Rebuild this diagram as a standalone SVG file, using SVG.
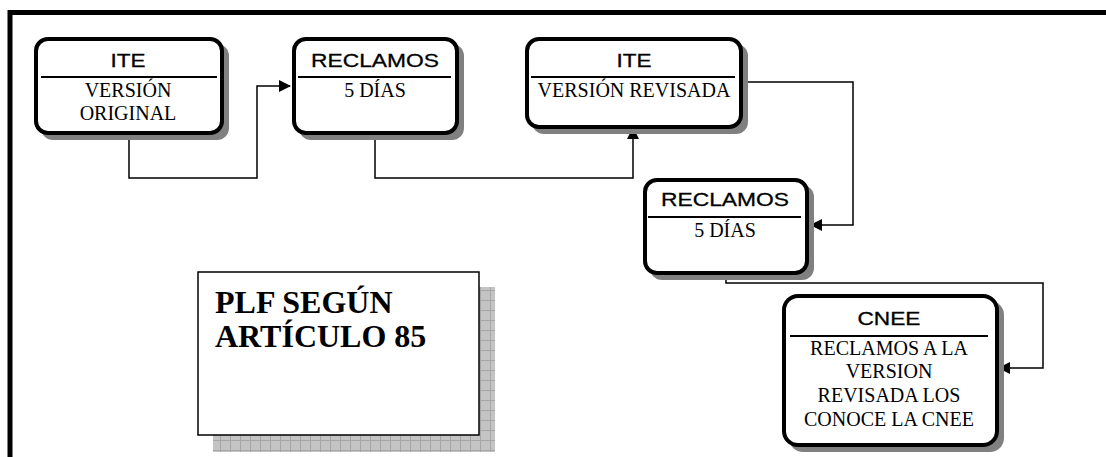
<svg xmlns="http://www.w3.org/2000/svg" width="1106" height="457" viewBox="0 0 1106 457">
<style>
.box{fill:#fff;stroke:#000;stroke-width:4}
.shadow{fill:#808080}
.div{stroke:#000;stroke-width:2}
.title{font-family:"Liberation Sans",Arial,sans-serif;font-size:19px;text-anchor:middle;fill:#000;stroke:#000;stroke-width:0.3}
.body{font-family:"Liberation Serif","Times New Roman",serif;font-size:20px;text-anchor:middle;fill:#000}
.conn{fill:none;stroke:#000;stroke-width:1.5}
.big{font-family:"Liberation Serif","Times New Roman",serif;font-size:32px;font-weight:bold;fill:#000}
</style>
<defs>
<marker id="arr" markerWidth="12" markerHeight="12" refX="11" refY="6" orient="auto" markerUnits="userSpaceOnUse">
<path d="M0,0 L12,6 L0,12 Z" fill="#000"/>
</marker>
<pattern id="grid" width="10" height="10" patternUnits="userSpaceOnUse">
<rect width="10" height="10" fill="#c4c4c4"/>
<path d="M0,0.5 H10 M0.5,0 V10" stroke="#a6a6a6" stroke-width="1"/>
</pattern>
</defs>
<rect width="1106" height="457" fill="#fff"/>
<g id="frame">
<path d="M10,457 V12.5 H1106" fill="none" stroke="#000" stroke-width="5"/>
</g>
<g id="connectors">
<path class="conn" d="M129,133 V178 H257 V86 H290" marker-end="url(#arr)"/>
<path class="conn" d="M375,133 V178 H633 V128" marker-end="url(#arr)"/>
<path class="conn" d="M741,82 H853 V225 H811" marker-end="url(#arr)"/>
<path class="conn" d="M726,273 V283 H1043 V368 H999" marker-end="url(#arr)"/>
</g>
<g id="node1">
<rect class="shadow" x="41" y="44" width="188" height="96" rx="12"/>
<rect class="box" x="36" y="39" width="186" height="94" rx="12"/>
<text class="title" x="128" y="67" textLength="35" lengthAdjust="spacingAndGlyphs">ITE</text>
<line class="div" x1="41" y1="77" x2="217" y2="77"/>
<text class="body" x="128" y="97">VERSIÓN</text>
<text class="body" x="128" y="120">ORIGINAL</text>
</g>
<g id="node2">
<rect class="shadow" x="299" y="44" width="165" height="96" rx="12"/>
<rect class="box" x="294" y="39" width="163" height="94" rx="12"/>
<text class="title" x="375" y="67" textLength="128" lengthAdjust="spacingAndGlyphs">RECLAMOS</text>
<line class="div" x1="298" y1="77" x2="451" y2="77"/>
<text class="body" x="375" y="97">5 DÍAS</text>
</g>
<g id="node3">
<rect class="shadow" x="532" y="44" width="216" height="90" rx="12"/>
<rect class="box" x="527" y="39" width="214" height="88" rx="12"/>
<text class="title" x="634" y="67" textLength="35" lengthAdjust="spacingAndGlyphs">ITE</text>
<line class="div" x1="531" y1="77" x2="735" y2="77"/>
<text class="body" x="634" y="97">VERSIÓN REVISADA</text>
</g>
<g id="node4">
<rect class="shadow" x="650" y="185" width="164" height="95" rx="12"/>
<rect class="box" x="645" y="180" width="162" height="93" rx="12"/>
<text class="title" x="725" y="206" textLength="128" lengthAdjust="spacingAndGlyphs">RECLAMOS</text>
<line class="div" x1="648" y1="217" x2="801" y2="217"/>
<text class="body" x="725" y="237">5 DÍAS</text>
</g>
<g id="node5">
<rect class="shadow" x="789" y="301" width="215" height="151" rx="14"/>
<rect class="box" x="784" y="296" width="213" height="149" rx="14"/>
<text class="title" x="889" y="325" textLength="63" lengthAdjust="spacingAndGlyphs">CNEE</text>
<line class="div" x1="790" y1="336" x2="988" y2="336"/>
<text class="body" x="889" y="355">RECLAMOS A LA</text>
<text class="body" x="889" y="378">VERSION</text>
<text class="body" x="889" y="402">REVISADA LOS</text>
<text class="body" x="889" y="426">CONOCE LA CNEE</text>
</g>
<g id="plf">
<rect x="213" y="287" width="282" height="165" fill="url(#grid)"/>
<rect x="198" y="272" width="281" height="163" fill="#fff" stroke="#000" stroke-width="1.5"/>
<text class="big" x="215" y="313">PLF SEGÚN</text>
<text class="big" x="215" y="347">ARTÍCULO 85</text>
</g>
</svg>
